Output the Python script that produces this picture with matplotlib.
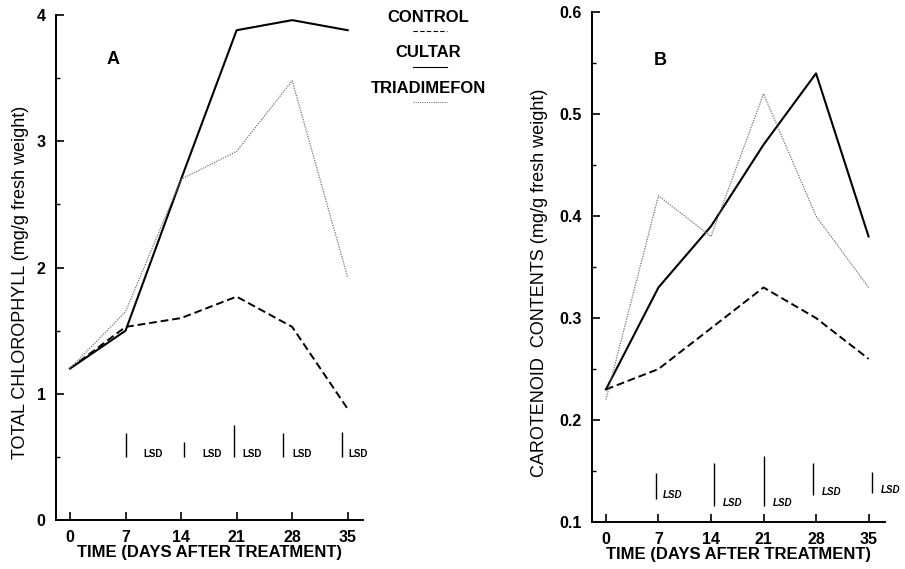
import numpy as np
import matplotlib
matplotlib.use("Agg")
import matplotlib.pyplot as plt
from matplotlib.lines import Line2D
from matplotlib.ticker import MultipleLocator, FormatStrFormatter

plt.rcParams['font.family'] = ['Liberation Sans', 'DejaVu Sans']

# dni posle obrabotki
days = [0, 7, 14, 21, 28, 35]

# A - obshij hlorofill
chl_control = [1.2, 1.53, 1.60, 1.77, 1.53, 0.88]
chl_cultar = [1.2, 1.50, 2.70, 3.88, 3.96, 3.88]
chl_triad = [1.2, 1.65, 2.70, 2.92, 3.48, 1.92]

# B - karotinoidy
car_control = [0.23, 0.25, 0.29, 0.33, 0.30, 0.26]
car_cultar = [0.23, 0.33, 0.39, 0.47, 0.54, 0.38]
car_triad = [0.22, 0.42, 0.38, 0.52, 0.40, 0.33]

# LSD otrezki: x, niz, verh
lsd_a_x = [7, 14.4, 20.7, 26.9, 34.3]
lsd_a_lo = [0.50, 0.50, 0.50, 0.50, 0.50]
lsd_a_hi = [0.69, 0.62, 0.75, 0.69, 0.70]
lsd_a_tx = [10.5, 17.9, 23.0, 29.3, 36.3]

lsd_b_x = [6.7, 14.4, 21.0, 27.6, 35.5]
lsd_b_lo = [0.123, 0.116, 0.116, 0.126, 0.128]
lsd_b_hi = [0.148, 0.158, 0.165, 0.158, 0.149]
lsd_b_tx = [8.9, 16.9, 23.6, 30.1, 37.9]

labels = ["CONTROL", "CULTAR", "TRIADIMEFON"]
styles = [dict(color="black", lw=1.4, ls=(0, (4, 2))),
          dict(color="black", lw=1.5, ls="-"),
          dict(color="0.45", lw=0.9, ls=(0, (1, 1)))]

fig = plt.figure(figsize=(9.05, 5.69), dpi=100, facecolor="white")
axA = fig.add_axes([0.0619, 0.086, 0.339, 0.8875])
axB = fig.add_axes([0.654, 0.0826, 0.324, 0.896])


def oformit(ax, ylo, yhi, major, minor, fmt, xlo, xhi):
    ax.set_xlim(xlo, xhi)
    ax.set_ylim(ylo, yhi)
    for s in ["top", "right"]:
        ax.spines[s].set_visible(False)
    for s in ["left", "bottom"]:
        ax.spines[s].set_linewidth(1.4)
    ax.set_xticks(days)
    ax.yaxis.set_major_locator(MultipleLocator(major))
    ax.yaxis.set_minor_locator(MultipleLocator(minor))
    ax.yaxis.set_major_formatter(FormatStrFormatter(fmt))
    ax.tick_params(axis="both", which="major", direction="in", length=6, width=1.2,
                   labelsize=11.5, pad=7.5)
    ax.tick_params(axis="y", which="minor", direction="in", length=3, width=1.0)
    for t in ax.get_xticklabels() + ax.get_yticklabels():
        t.set_fontweight("bold")
    ax.set_xlabel("TIME (DAYS AFTER TREATMENT)", fontsize=12, fontweight="bold", labelpad=0)


# A
axA.plot(days, chl_control, **styles[0])
axA.plot(days, chl_cultar, **styles[1])
axA.plot(days, chl_triad, **styles[2])
axA.vlines(lsd_a_x, lsd_a_lo, lsd_a_hi, color="black", lw=1.0)
for x, y in zip(lsd_a_tx, lsd_a_lo):
    axA.text(x, y + 0.02, "LSD", fontsize=7, fontweight="bold", ha="center", va="center")
oformit(axA, 0, 4, 1, 0.5, "%d", -1.76, 36.9)
axA.set_ylabel("TOTAL CHLOROPHYLL (mg/g fresh weight)", fontsize=13)
axA.yaxis.set_label_coords(-0.088, 0.47)
axA.text(5.4, 3.65, "A", fontsize=13, fontweight="bold", ha="center", va="center")

# B
axB.plot(days, car_control, **styles[0])
axB.plot(days, car_cultar, **styles[1])
axB.plot(days, car_triad, **styles[2])
axB.vlines(lsd_b_x, lsd_b_lo, lsd_b_hi, color="black", lw=1.0)
for x, y in zip(lsd_b_tx, lsd_b_lo):
    axB.text(x, y + 0.003, "LSD", fontsize=7, fontweight="bold", style="italic",
             ha="center", va="center")
oformit(axB, 0.1, 0.6, 0.1, 0.05, "%.1f", -1.87, 37.2)
axB.set_ylabel("CAROTENOID  CONTENTS (mg/g fresh weight)", fontsize=13)
axB.yaxis.set_label_coords(-0.15, 0.47)
axB.text(7.2, 0.553, "B", fontsize=13, fontweight="bold", ha="center", va="center")

# legenda: tekst nad obrazcom linii
leg_y = [0.970, 0.907, 0.845]
for lab, st, y in zip(labels, styles, leg_y):
    fig.text(0.473, y, lab, fontsize=12, fontweight="bold", ha="center", va="center")
    fig.add_artist(Line2D([0.456, 0.494], [y - 0.025, y - 0.025],
                          transform=fig.transFigure, color=st["color"],
                          lw=0.8, ls=st["ls"]))

fig.savefig("out.png", dpi=100, facecolor="white")
